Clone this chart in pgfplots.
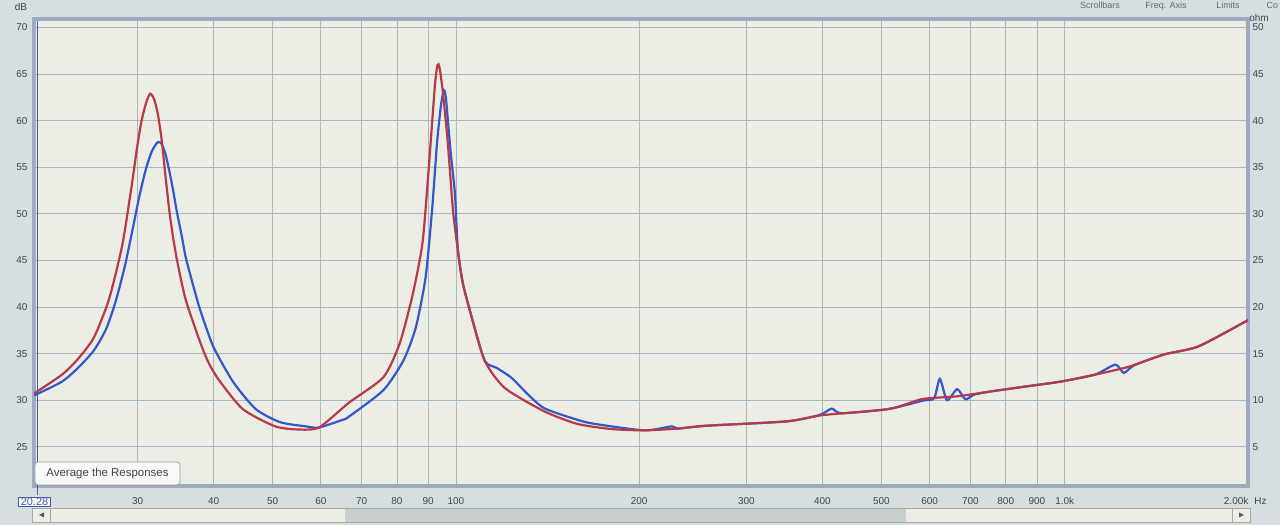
\documentclass[border=0pt]{standalone}
\usepackage{fontspec}
\setmainfont{Liberation Sans}
\usepackage{pgfplots}
\pgfplotsset{compat=1.18}
\definecolor{outerbg}{RGB}{214,222,223}
\definecolor{plotbg}{RGB}{236,237,228}
\definecolor{gridc}{RGB}{168,184,190}
\definecolor{framec}{RGB}{158,170,192}
\definecolor{redc}{RGB}{184,58,72}
\definecolor{bluec}{RGB}{52,88,204}
\definecolor{textc}{RGB}{62,68,74}
\definecolor{cursorc}{RGB}{70,90,170}

\pgfplotstableread{
f db
20.28 30.72
22.51 32.71
23.92 34.39
25.43 36.72
26.93 40.83
28.32 46.66
29.36 53.13
29.89 56.74
30.44 59.91
31.0 61.93
31.45 62.88
31.92 62.36
32.38 60.76
32.86 58.0
33.34 54.08
33.83 50.36
34.33 47.38
34.96 44.5
35.99 40.8
37.87 36.54
39.14 34.19
40.71 32.27
44.64 29.06
50.37 27.22
54.77 26.87
59.56 27.07
66.66 29.71
76.02 32.47
80.86 36.11
85.0 41.45
88.11 46.82
90.0 53.91
91.71 61.1
92.40 63.9
93.1 65.72
93.63 66.04
94.16 65.4
95.23 62.93
97.0 57.56
98.9 50.37
100.76 46.07
102.67 42.53
106.2 38.86
111.5 34.24
120.3 31.31
139.8 28.8
158.3 27.46
180.0 26.91
203.9 26.77
231.6 26.96
257.1 27.26
349.1 27.73
400 28.4
513.8 29.06
583.9 30.13
665.8 30.42
757.2 30.95
862 31.47
984.6 32.0
1120 32.74
1275 33.6
1456 34.91
1657 35.77
1977 38.41
2000 38.6
}\redtab

\pgfplotstableread{
f db
20.28 30.51
22.51 31.97
23.92 33.43
25.43 35.34
26.64 37.65
27.62 40.61
28.63 44.53
29.47 48.45
30.22 51.95
31.0 54.92
31.68 56.73
32.38 57.69
32.86 57.5
33.34 56.41
33.83 54.61
34.33 52.47
34.83 50.14
35.47 47.59
35.99 45.36
36.92 42.6
37.87 40.05
38.99 37.6
40.14 35.47
43.09 31.94
46.91 29.05
51.48 27.64
56.81 27.19
59.56 27.07
65.18 27.9
66.66 28.22
76.02 31.08
82.03 34.28
85.93 37.81
89.17 43.18
91.37 50.36
93.1 57.55
94.51 61.65
95.59 63.26
96.3 62.4
97.0 60.03
98.14 56.27
99.63 52.19
100.76 46.07
102.67 42.53
106.2 38.86
111.5 34.24
116.7 33.47
123.5 32.39
131.2 30.65
139.8 29.13
158.3 27.9
168.8 27.47
203.9 26.77
226.3 27.2
231.6 26.96
257.1 27.26
349.1 27.73
395 28.4
414.3 29.1
430 28.6
513.8 29.06
583.9 29.95
610 30.2
623.6 32.3
640.6 30.0
665.8 31.19
686.7 30.1
710 30.6
757.2 30.95
862 31.47
984.6 32.0
1120 32.74
1211 33.82
1250 32.93
1300 33.75
1456 34.91
1657 35.77
1977 38.41
2000 38.6
}\bluetab

\begin{document}
\begin{tikzpicture}[x=1bp,y=1bp]
\fill[outerbg] (0,0) rectangle (1280,525);
\useasboundingbox (0,0) rectangle (1280,525);
% scrollbar strip
\fill[plotbg] (32,3) rectangle (1250,17);
\fill[outerbg!93!black] (345,3) rectangle (906,17);
\draw[gray!70, line width=0.6bp] (32,3) rectangle (1250,17);
\draw[gray!70, line width=0.6bp] (50,3) -- (50,17);
\draw[gray!70, line width=0.6bp] (1232,3) -- (1232,17);
\fill[gray!70!black] (44,7.5) -- (44,12.5) -- (39,10) -- cycle;
\fill[gray!70!black] (1239,7.5) -- (1239,12.5) -- (1244,10) -- cycle;
% menu text at the top
\begin{scope}[every node/.style={font=\fontsize{9}{11}\selectfont, text=textc!80, anchor=base}]
\node at (1100,516) {Scrollbars};
\node at (1166,516) {Freq. Axis};
\node at (1228,516) {Limits};
\node[anchor=base west] at (1263,516) {Co};
\end{scope}

\begin{axis}[
  at={(34bp,39bp)}, anchor=south west,
  scale only axis, width=1214bp, height=467bp,
  xmode=log, xmin=20.28, xmax=2000,
  ymin=20.8, ymax=70.9,
  axis background/.style={fill=plotbg},
  xtick={30,40,50,60,70,80,90,100,200,300,400,500,600,700,800,900,1000,2000},
  xticklabels={30,40,50,60,70,80,90,100,200,300,400,500,600,700,800,900,1.0k,{}},
  ytick={25,30,...,70},
  log ticks with fixed point,
  grid=major,
  major grid style={draw=gridc, line width=0.7bp},
  axis line style={draw=framec, line width=4bp},
  tick style={draw=none},
  /pgf/number format/assume math mode=true,
  ticklabel style={font=\fontsize{10}{12}\selectfont, text=textc},
  xticklabel style={anchor=center, yshift=-15bp},
  yticklabel style={anchor=east, xshift=-3bp},
  clip=true,
]
\addplot[bluec, line width=2.2bp, smooth, tension=0.4] table[x=f, y=db] {\bluetab};
\addplot[redc, line width=2.2bp, smooth, tension=0.4] table[x=f, y=db] {\redtab};
\end{axis}

\begin{axis}[
  at={(34bp,39bp)}, anchor=south west,
  scale only axis, width=1214bp, height=467bp,
  xmode=log, xmin=20.28, xmax=2000,
  ymin=0.8, ymax=50.9,
  axis x line=none, axis y line*=right,
  axis line style={draw=none},
  ytick={5,10,...,50},
  tick style={draw=none},
  /pgf/number format/assume math mode=true,
  ticklabel style={font=\fontsize{10}{12}\selectfont, text=textc},
  yticklabel style={anchor=west, xshift=1bp},
]
\end{axis}

% cursor line and readout
\draw[cursorc, line width=0.8bp] (37,30) -- (37,504);
\node[draw=cursorc, fill=white!85!plotbg, text=cursorc, inner xsep=2bp, inner ysep=1bp, line width=0.8bp,
  font=\fontsize{11}{12}\selectfont] at (34.5,23) {20.28};
% unit labels
\node[font=\fontsize{10}{12}\selectfont, text=textc] at (21,518) {dB};
\node[font=\fontsize{10}{12}\selectfont, text=textc] at (1259,507) {ohm};
\node[font=\fontsize{10}{12}\selectfont, text=textc, anchor=east] at (1270,24) {2.00k\hspace{6bp}Hz};
% button
\node[draw=gray!80, fill=white!70!plotbg, rounded corners=3bp, line width=0.8bp,
  minimum width=145bp, minimum height=23bp, inner sep=0pt,
  font=\fontsize{11.5}{13}\selectfont, text=textc] at (107.5,51.5) {Average the Responses};
\end{tikzpicture}
\end{document}
